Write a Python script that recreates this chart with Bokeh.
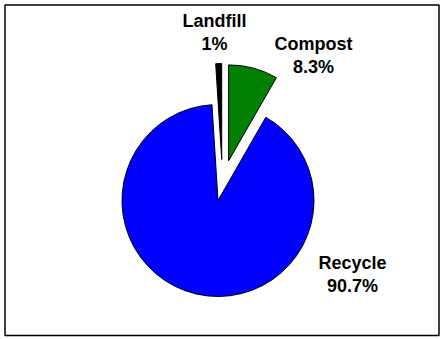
import math
from bokeh.plotting import figure
from bokeh.models import Range1d, ColumnDataSource
from bokeh.core.properties import value
from bokeh.embed import file_html
from bokeh.resources import INLINE

# Data
categories = ["Compost", "Recycle", "Landfill"]
percents = [8.3, 90.7, 1.0]
pct_labels = ["8.3%", "90.7%", "1%"]
colors = ["#008000", "#0000FF", "#000000"]

# Layout (pixels, y measured from top)
W, H = 443, 339
cx, cy = 217.5, 200
R = 96
explode = [41, 0, 41]
explode_sideways = [0, 0, 5]
label_pos = [(313, 43), (352, 262), (214, 20)]
line_gap = 23

p = figure(width=W, height=H, output_backend="svg", toolbar_location=None,
           x_range=Range1d(0, W), y_range=Range1d(0, H), min_border=0,
           match_aspect=False)
p.axis.visible = False
p.grid.visible = False
p.outline_line_color = None
p.background_fill_color = "white"
p.border_fill_color = "white"

total = sum(percents)
xs, ys, sa, ea = [], [], [], []
cum = 0.0
for pc, ex, sw in zip(percents, explode, explode_sideways):
    a0 = cum / total * 2 * math.pi
    a1 = (cum + pc) / total * 2 * math.pi
    mid = (a0 + a1) / 2
    # clockwise from top
    xs.append(cx + ex * math.sin(mid) + sw)
    ys.append(H - (cy - ex * math.cos(mid)))
    sa.append(math.pi / 2 - a0)
    ea.append(math.pi / 2 - a1)
    cum += pc

src = ColumnDataSource(dict(x=xs, y=ys, start=sa, end=ea, color=colors))
p.wedge(x="x", y="y", radius=R, start_angle="start", end_angle="end",
        direction="clock", fill_color="color", line_color="black",
        line_width=1, source=src)

# Border
p.quad(left=[4.5], right=[438.5], bottom=[H - 335], top=[H - 4.5],
       fill_color=None, line_color="black", line_width=1.5)

lsrc = ColumnDataSource(dict(
    x=[lp[0] for lp in label_pos],
    y1=[H - (lp[1]) for lp in label_pos],
    y2=[H - (lp[1] + line_gap) for lp in label_pos],
    name=categories, pct=pct_labels))
for col, yk in (("name", "y1"), ("pct", "y2")):
    p.text(x="x", y=yk, text=col, source=lsrc, text_align="center",
           text_baseline="middle", text_font=value("Liberation Sans"),
           text_font_style="bold", text_font_size="18px", text_color="black")

open("out.html", "w").write(file_html(p, INLINE))
